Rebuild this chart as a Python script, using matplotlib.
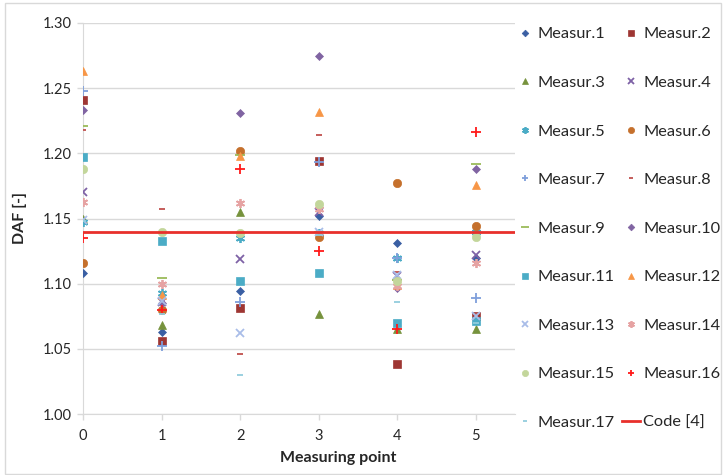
import matplotlib
matplotlib.use('Agg')
import matplotlib.pyplot as plt
from matplotlib.patches import Rectangle

plt.rcParams['font.family'] = ['Lato', 'DejaVu Sans']

# Measuring points and DAF values
points = [0, 1, 2, 3, 4, 5]
m1 = [1.108, 1.063, 1.094, 1.152, 1.131, 1.120]
m2 = [1.241, 1.056, 1.081, 1.194, 1.038, 1.075]
m3 = [1.150, 1.068, 1.155, 1.077, 1.065, 1.065]
m4 = [1.170, 1.086, 1.119, 1.155, 1.106, 1.122]
m5 = [1.147, 1.093, 1.135, 1.139, 1.120, 1.140]
m6 = [1.116, 1.080, 1.202, 1.136, 1.177, 1.144]
m7 = [1.248, 1.052, 1.086, 1.193, 1.120, 1.089]
m8 = [1.218, 1.157, 1.046, 1.214, 1.109, 1.077]
m9 = [1.221, 1.104, 1.199, 1.140, 1.103, 1.192]
m10 = [1.233, 1.085, 1.231, 1.275, 1.097, 1.188]
m11 = [1.197, 1.133, 1.102, 1.108, 1.070, 1.071]
m12 = [1.263, 1.091, 1.198, 1.232, 1.099, 1.176]
m13 = [1.149, 1.087, 1.062, 1.140, 1.107, 1.075]
m14 = [1.163, 1.100, 1.162, 1.157, 1.098, 1.116]
m15 = [1.188, 1.140, 1.139, 1.161, 1.102, 1.136]
m16 = [1.135, 1.080, 1.188, 1.125, 1.065, 1.216]
m17 = [1.148, 1.077, 1.030, 1.137, 1.086, 1.070]
code_value = 1.14

series = [m1, m2, m3, m4, m5, m6, m7, m8, m9, m10, m11, m12, m13, m14, m15, m16, m17]
names = ['Measur.%d' % (i + 1) for i in range(len(series))]

star = (6, 2, 0)
styles = [
    ('D', '#3A5FA3', 4.5),
    ('s', '#9E3633', 5.5),
    ('^', '#76923C', 6.0),
    ('x', '#7E62A6', 6.0),
    (star, '#4BACC6', 6.5),
    ('o', '#C5702C', 6.0),
    ('+', '#7F9FDB', 6.5),
    ('_', '#C0504D', 4.5),
    ('_', '#9BBB59', 7.5),
    ('D', '#8064A2', 4.5),
    ('s', '#4BACC6', 5.5),
    ('^', '#F79646', 6.0),
    ('x', '#A9BDE8', 6.0),
    (star, '#E6A3A3', 6.5),
    ('o', '#C3D69B', 6.0),
    ('+', '#FF1A1A', 6.5),
    ('_', '#93CDDD', 4.5),
]

fig = plt.figure(figsize=(7.26, 4.75), dpi=100)
ax = fig.add_axes([83 / 726, 61 / 475, 432 / 726, 391 / 475])

handles = []
for vals, name, (mk, col, ms) in zip(series, names, styles):
    h, = ax.plot(points, vals, linestyle='none', marker=mk, color=col,
                 markersize=ms, markeredgewidth=1.3 if mk in ('x', '+', '_', star) else 0.5,
                 label=name, zorder=3)
    handles.append(h)

code_line = ax.axhline(code_value, color='#E8302B', linewidth=2, zorder=4, label='Code [4]')
handles.append(code_line)

ax.set_xlim(0, 5.5)
ax.set_ylim(1.00, 1.30)
ax.set_xticks(points)
ax.set_yticks([1.00, 1.05, 1.10, 1.15, 1.20, 1.25, 1.30])
ax.set_yticklabels(['%.2f' % v for v in ax.get_yticks()])
ax.grid(axis='y', color='#D9D9D9', linewidth=1)
ax.set_axisbelow(True)
for s in ['top', 'right']:
    ax.spines[s].set_visible(False)
ax.spines['left'].set_color('#D9D9D9')
ax.spines['bottom'].set_color('#D9D9D9')
ax.tick_params(axis='both', colors='#D9D9D9', labelcolor='#262626', labelsize=10.5, length=4, width=1)
ax.tick_params(axis='y', pad=4)
ax.tick_params(axis='x', pad=7)

ax.set_xlabel('Measuring point', fontsize=11.5, fontweight='bold', color='#262626')
ax.xaxis.set_label_coords((338 - 83) / 432, -0.095)
ax.set_ylabel('DAF [-]', fontsize=11.5, fontweight='bold', color='#262626')
ax.yaxis.set_label_coords(-0.13, 0.5)

# legend filled row by row like Excel
order = list(range(0, 18, 2)) + list(range(1, 18, 2))
leg = fig.legend([handles[i] for i in order], [handles[i].get_label() for i in order],
                 loc='upper left', bbox_to_anchor=(516 / 726, 1 - 27 / 475), ncol=2,
                 frameon=False, fontsize=11.8, labelspacing=2.08, handlelength=1.1,
                 handletextpad=0.2, columnspacing=0.45, borderpad=0, borderaxespad=0,
                 markerscale=0.75)
for t in leg.get_texts():
    t.set_color('#262626')

fig.patches.append(Rectangle((5 / 726, 1 / 475), 716 / 726, 471 / 475, transform=fig.transFigure,
                             fill=False, edgecolor='#D9D9D9', linewidth=1))

fig.savefig('out.png', dpi=100)
